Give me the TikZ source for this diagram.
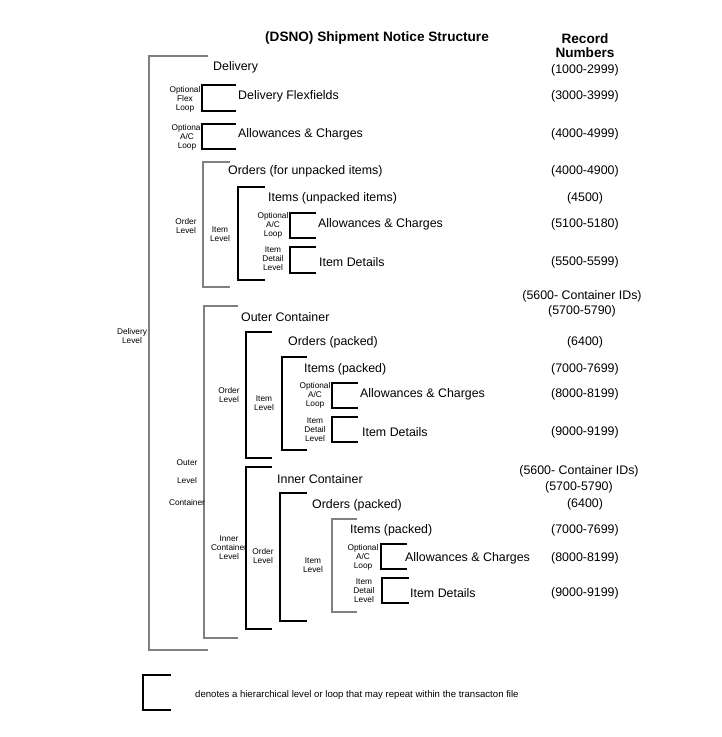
\documentclass[tikz,border=0pt]{standalone}
\usepackage{fontspec}
\setmainfont{Liberation Sans}
\tikzset{
  brk/.style={line width=1.7pt, black},
  gbrk/.style={line width=1.7pt, gray},
  lbl/.style={anchor=west, inner sep=0pt, yshift=-1pt, font=\fontsize{12.4}{14}\selectfont},
  rec/.style={anchor=center, inner sep=0pt, yshift=-1pt, font=\fontsize{12.4}{14}\selectfont},
  sml/.style={anchor=center, inner sep=0pt, align=center, font=\fontsize{8.3}{9}\selectfont},
  ttl/.style={anchor=center, inner sep=0pt, font=\bfseries\fontsize{13.6}{15}\selectfont}
}
\begin{document}
\begin{tikzpicture}[x=1pt,y=-1pt]
\useasboundingbox (0,0) rectangle (721,737);
% title and header
\node[ttl] (title) at (377,38) {(DSNO) Shipment Notice Structure};
\node[ttl] (rech1) at (585,39) {Record};
\node[ttl] (rech2) at (585,53) {Numbers};
% brackets
\draw[gbrk] (208,56) -- (149,56) -- (149,650) -- (208,650);
\draw[brk] (236,85) -- (202,85) -- (202,111) -- (236,111);
\draw[brk] (236,124) -- (202,124) -- (202,149) -- (236,149);
\draw[gbrk] (230,162) -- (203,162) -- (203,287) -- (230,287);
\draw[brk] (265,187) -- (238,187) -- (238,280) -- (265,280);
\draw[brk] (316,213) -- (290,213) -- (290,238) -- (316,238);
\draw[brk] (316,247) -- (290,247) -- (290,273) -- (316,273);
\draw[gbrk] (238,306) -- (204,306) -- (204,638) -- (238,638);
\draw[brk] (272,332) -- (246,332) -- (246,458) -- (272,458);
\draw[brk] (307,357) -- (282,357) -- (282,450) -- (307,450);
\draw[brk] (358,383) -- (332,383) -- (332,408) -- (358,408);
\draw[brk] (358,417) -- (332,417) -- (332,442) -- (358,442);
\draw[brk] (272,467) -- (246,467) -- (246,629) -- (272,629);
\draw[brk] (307,493) -- (280,493) -- (280,621) -- (307,621);
\draw[gbrk] (357,519) -- (332,519) -- (332,612) -- (357,612);
\draw[brk] (407,544) -- (381,544) -- (381,569) -- (407,569);
\draw[brk] (409,578) -- (382,578) -- (382,603) -- (409,603);
\draw[brk] (171,675) -- (143,675) -- (143,710) -- (171,710);
% main labels
\node[lbl] (t1) at (213,66) {Delivery};
\node[lbl] (t2) at (238,95) {Delivery Flexfields};
\node[lbl] (t3) at (238,133) {Allowances \& Charges};
\node[lbl] (t4) at (228,170) {Orders (for unpacked items)};
\node[lbl] (t5) at (268,197) {Items (unpacked items)};
\node[lbl] (t6) at (318,223) {Allowances \& Charges};
\node[lbl] (t7) at (319,261) {Item Details};
\node[lbl] (t8) at (241,316) {Outer Container};
\node[lbl] (t9) at (288,341) {Orders (packed)};
\node[lbl] (t10) at (304,368) {Items (packed)};
\node[lbl] (t11) at (360,393) {Allowances \& Charges};
\node[lbl] (t12) at (362,431) {Item Details};
\node[lbl] (t13) at (277,478) {Inner Container};
\node[lbl] (t14) at (312,504) {Orders (packed)};
\node[lbl] (t15) at (350,529) {Items (packed)};
\node[lbl] (t16) at (405,557) {Allowances \& Charges};
\node[lbl] (t17) at (410,592) {Item Details};
% record numbers
\node[rec] (r1) at (585,69) {(1000-2999)};
\node[rec] (r2) at (585,95) {(3000-3999)};
\node[rec] (r3) at (585,133) {(4000-4999)};
\node[rec] (r4) at (585,170) {(4000-4900)};
\node[rec] (r5) at (585,197) {(4500)};
\node[rec] (r6) at (585,223) {(5100-5180)};
\node[rec] (r7) at (585,261) {(5500-5599)};
\node[rec] (r8) at (582,295) {(5600- Container IDs)};
\node[rec] (r9) at (582,310) {(5700-5790)};
\node[rec] (r10) at (585,341) {(6400)};
\node[rec] (r11) at (585,368) {(7000-7699)};
\node[rec] (r12) at (585,393) {(8000-8199)};
\node[rec] (r13) at (585,431) {(9000-9199)};
\node[rec] (r14) at (579,470) {(5600- Container IDs)};
\node[rec] (r15) at (579,486) {(5700-5790)};
\node[rec] (r16) at (585,503) {(6400)};
\node[rec] (r17) at (585,529) {(7000-7699)};
\node[rec] (r18) at (585,557) {(8000-8199)};
\node[rec] (r19) at (585,592) {(9000-9199)};
% small level labels
\node[sml] (s1) at (185,99) {Optional\\Flex\\Loop};
\node[sml] (s2) at (187,137) {Optional\\A/C\\Loop};
\node[sml] (s3) at (186,226) {Order\\Level};
\node[sml] (s4) at (220,234) {Item\\Level};
\node[sml] (s5) at (273,225) {Optional\\A/C\\Loop};
\node[sml] (s6) at (273,259) {Item\\Detail\\Level};
\node[sml] (s7) at (132,336.5) {Delivery\\Level};
\node[sml] (s8) at (229,395.5) {Order\\Level};
\node[sml] (s9) at (264,403.5) {Item\\Level};
\node[sml] (s10) at (315,395) {Optional\\A/C\\Loop};
\node[sml] (s11) at (315,429.5) {Item\\Detail\\Level};
\node[sml] (s12) at (187,463) {Outer};
\node[sml] (s13) at (187,481) {Level};
\node[sml] (s14) at (187,503) {Container};
\node[sml] (s15) at (229,548) {Inner\\Container\\Level};
\node[sml] (s16) at (263,556.5) {Order\\Level};
\node[sml] (s17) at (313,565.5) {Item\\Level};
\node[sml] (s18) at (363,557) {Optional\\A/C\\Loop};
\node[sml] (s19) at (364,591) {Item\\Detail\\Level};
% legend
\node[anchor=west, inner sep=0pt, font=\fontsize{9.6}{11}\selectfont] (leg) at (195,695) {denotes a hierarchical level or loop that may repeat within the transacton file};
\end{tikzpicture}
\end{document}
